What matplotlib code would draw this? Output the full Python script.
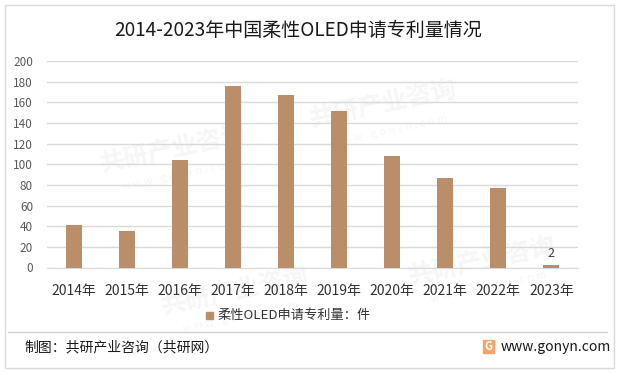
import matplotlib.pyplot as plt
from matplotlib.patches import Rectangle
from matplotlib.lines import Line2D

plt.rcParams['font.family'] = ['Noto Sans CJK SC', 'DejaVu Sans']

# 数据
years = ['2014年', '2015年', '2016年', '2017年', '2018年',
         '2019年', '2020年', '2021年', '2022年', '2023年']
patents = [41, 35, 104, 176, 167, 152, 108, 87, 77, 2]
y_ticks = [0, 20, 40, 60, 80, 100, 120, 140, 160, 180, 200]

BAR_COLOR = '#BB8E6A'
GRID_COLOR = '#D9D9D9'

W, H = 618, 373
fig = plt.figure(figsize=(W / 100, H / 100), dpi=100)
fig.patch.set_facecolor('white')

# 水印（很淡）
for wx, wy in [(0.28, 0.60), (0.62, 0.72), (0.38, 0.22), (0.78, 0.30)]:
    fig.text(wx, wy, '共研产业咨询', fontsize=18, fontweight='bold',
             color='#F6F6F6', rotation=12, ha='center', va='center', zorder=-1)
    fig.text(wx + 0.01, wy - 0.07, 'w w w . g o n y n . c o m', fontsize=8,
             color='#F6F6F6', rotation=12, ha='center', va='center', zorder=-1)

ax = fig.add_axes([47 / W, 1 - 267.5 / H, 531 / W, 206.5 / H])
ax.patch.set_alpha(0)
x = range(len(years))
ax.bar(x, patents, width=0.3, color=BAR_COLOR, zorder=3)
ax.set_xlim(-0.5, len(years) - 0.5)
ax.set_ylim(0, 200)
ax.set_yticks(y_ticks)
ax.set_xticks(list(x))
ax.set_xticklabels(years, fontsize=10, color='#333333')
ax.tick_params(axis='y', labelsize=8.5, colors='#595959', length=0, pad=10)
ax.tick_params(axis='x', length=0, pad=12)
ax.grid(axis='y', color=GRID_COLOR, linewidth=1, zorder=0)
for side in ['top', 'right', 'left']:
    ax.spines[side].set_visible(False)
ax.spines['bottom'].set_color(GRID_COLOR)

# 2023年数据标签
ax.annotate(str(patents[-1]), (9, patents[-1]), xytext=(0, 4),
            textcoords='offset points', ha='center', va='bottom',
            fontsize=9, color='#404040')

# 标题
fig.text(298 / W, 1 - 30 / H, '2014-2023年中国柔性OLED申请专利量情况',
         fontsize=13.7, color='#1a1a1a', ha='center', va='center')

# 图例
fig.patches.append(Rectangle((206 / W, 1 - 319 / H), 7 / W, 7 / H,
                             transform=fig.transFigure, color=BAR_COLOR))
fig.text(217 / W, 1 - 315.5 / H, '柔性OLED申请专利量：件', fontsize=9.5,
         color='#333333', ha='left', va='center')

# 分隔线和外框
fig.lines.append(Line2D([8 / W, 607 / W], [1 - 332 / H, 1 - 332 / H],
                        transform=fig.transFigure, color='#D0D0D0', linewidth=1))
fig.patches.append(Rectangle((5 / W, 5 / H), 609 / W, 363 / H, fill=False,
                             transform=fig.transFigure, edgecolor='#D9D9D9',
                             linewidth=1))

# 页脚
fig.text(24 / W, 1 - 347 / H, '制图：共研产业咨询（共研网）', fontsize=10,
         color='#1a1a1a', ha='left', va='center')
fig.patches.append(Rectangle((483 / W, 1 - 353 / H), 11 / W, 13 / H,
                             transform=fig.transFigure, color='#F4A46A'))
fig.text(488.5 / W, 1 - 346.5 / H, 'G', fontsize=8, fontweight='bold',
         color='white', ha='center', va='center')
fig.text(501 / W, 1 - 347 / H, 'www.gonyn.com', fontsize=10,
         color='#1a1a1a', ha='left', va='center')

fig.savefig('out.png', dpi=100)
